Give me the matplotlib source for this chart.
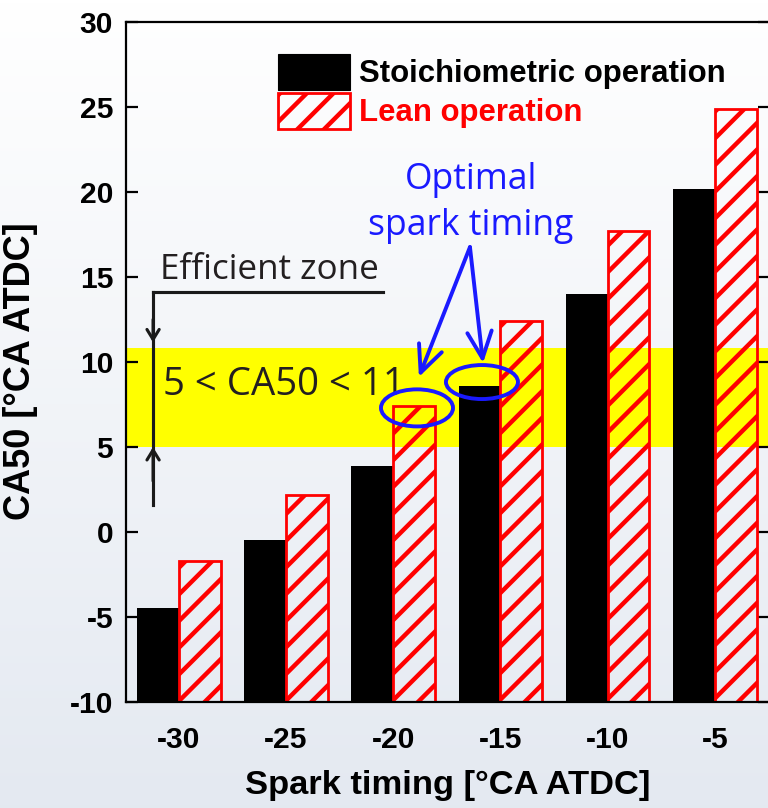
import numpy as np
import matplotlib
matplotlib.use("Agg")
import matplotlib.pyplot as plt
from matplotlib.patches import Patch, Ellipse

timing = [-30, -25, -20, -15, -10, -5]
stoich = [-4.5, -0.5, 3.9, 8.6, 14.0, 20.2]
lean = [-1.7, 2.2, 7.4, 12.4, 17.7, 24.9]
zone_lo, zone_hi = 5, 10.8
y_base = -10

plt.rcParams['font.family'] = ['Liberation Sans', 'DejaVu Sans']
plt.rcParams['font.weight'] = 'bold'
plt.rcParams['axes.labelweight'] = 'bold'
plt.rcParams['axes.unicode_minus'] = False
plt.rcParams['hatch.linewidth'] = 4.0

fig = plt.figure(figsize=(9.6, 10.1), dpi=80)

# soft gradient background
bg = fig.add_axes([0, 0, 1, 1], zorder=-10)
grad = np.linspace(0, 1, 256).reshape(-1, 1)
top = np.array([1.0, 1.0, 1.0])
bot = np.array([0.894, 0.914, 0.945])
img = top + (bot - top) * grad[..., None]
bg.imshow(img, aspect='auto', extent=[0, 1, 0, 1])
bg.axis('off')

ax = fig.add_axes([0.1647, 0.1312, 0.8375, 0.8416])
ax.set_facecolor('none')

x = np.array(timing, dtype=float)
w = 1.95
ax.axhspan(zone_lo, zone_hi, color='#ffff00', zorder=0, lw=0)
ax.bar(x - w / 2, np.array(stoich) - y_base, width=w, bottom=y_base,
       color='black', zorder=2)
ax.bar(x + w / 2, np.array(lean) - y_base, width=w, bottom=y_base,
       facecolor='none', edgecolor='#ff0000', hatch='/', linewidth=2.5, zorder=2)

ax.set_xlim(-32.44, -2.44)
ax.set_ylim(-10, 30)
ax.set_xticks(timing)
ax.set_yticks(range(-10, 31, 5))
ax.tick_params(axis='y', direction='in', length=11, width=2, labelsize=27,
               pad=12, right=True)
ax.tick_params(axis='x', length=0, labelsize=27, pad=22)
for s in ax.spines.values():
    s.set_linewidth(2)

ax.set_xlabel('Spark timing [°CA ATDC]', fontsize=31)
ax.set_ylabel('CA50 [°CA ATDC]', fontsize=32.5)
ax.xaxis.set_label_coords(0.5, -0.1)
ax.yaxis.set_label_coords(-0.1376, 0.487)

# legend
handles = [Patch(facecolor='black', edgecolor='black'),
           Patch(facecolor='none', edgecolor='#ff0000', hatch='/', linewidth=2.5)]
leg = ax.legend(handles, ['Stoichiometric operation', 'Lean operation'],
                loc='upper left', bbox_to_anchor=(0.362, 0.933),
                bbox_transform=fig.transFigure, frameon=False, fontsize=28,
                handlelength=2.3, handleheight=1.4, labelspacing=0.1,
                handletextpad=0.3, borderpad=0, borderaxespad=0)
leg.get_texts()[1].set_color('#ff0000')

# efficient zone annotation
ann = dict(family=['Open Sans', 'DejaVu Sans'], weight='normal')
dark = '#1a1a1a'
ax.text(-30.88, 14.88, 'Efficient zone', fontsize=31.5, color='#231f20', **ann)
ax.plot([-31.2, -20.47], [14.12, 14.12], color=dark, lw=2.8, zorder=3)
ax.plot([-31.2, -31.2], [14.12, 1.6], color=dark, lw=2.8, zorder=3)
ax.annotate('', xy=(-31.2, zone_hi + 0.35), xytext=(-31.2, 12.5),
            arrowprops=dict(arrowstyle='->,head_length=0.9,head_width=0.55',
                            color=dark, lw=2.8, shrinkA=0, shrinkB=0))
ax.annotate('', xy=(-31.2, zone_lo), xytext=(-31.2, 3.0),
            arrowprops=dict(arrowstyle='->,head_length=0.9,head_width=0.55',
                            color=dark, lw=2.8, shrinkA=0, shrinkB=0))
ax.text(-30.74, 8.06, '5 < CA50 < 11', fontsize=34.5, color='#231f20', **ann)

# optimal spark timing annotation
blue = '#1a1aff'
ax.text(-16.37, 20.7, 'Optimal', fontsize=32, color=blue,
        ha='center', va='center', **ann)
ax.text(-16.37, 18.0, 'spark timing', fontsize=32, color=blue,
        ha='center', va='center', **ann)
for tip in [(-18.8, 9.12), (-15.81, 9.94)]:
    ax.annotate('', xy=tip, xytext=(-16.42, 16.76),
                arrowprops=dict(arrowstyle='->,head_length=2.4,head_width=1.1',
                                color=blue, lw=3.5, shrinkA=0, shrinkB=0))
ax.add_patch(Ellipse((-18.89, 7.3), 3.36, 2.18, fill=False, edgecolor=blue,
                     lw=3.5, zorder=4))
ax.add_patch(Ellipse((-15.86, 8.82), 3.36, 2.0, fill=False, edgecolor=blue,
                     lw=3.5, zorder=4))

fig.savefig('out.png', dpi=80)
